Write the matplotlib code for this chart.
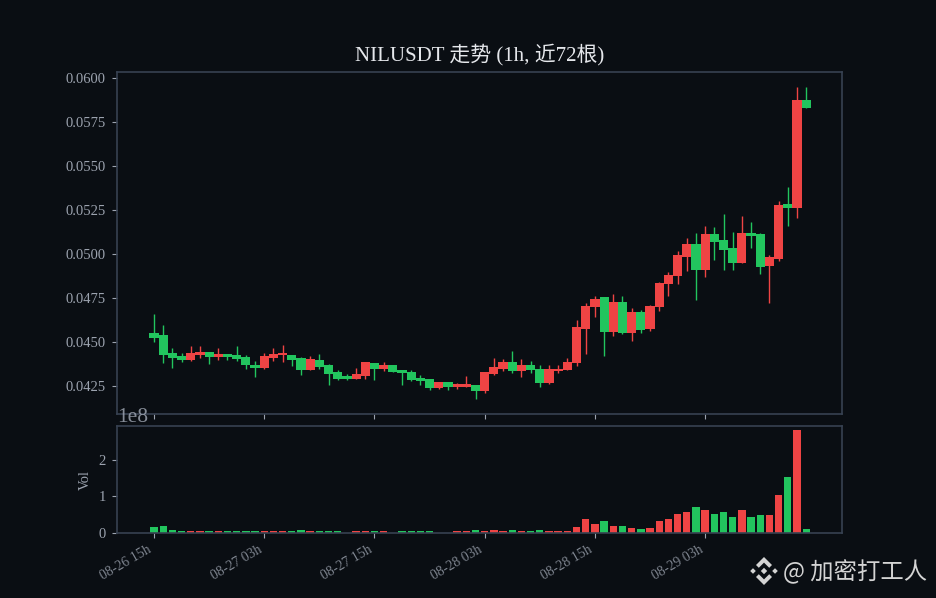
import numpy as np
import pandas as pd
import matplotlib
matplotlib.use("Agg")
import matplotlib.pyplot as plt
from matplotlib.patches import Polygon

# hourly candles
opens = [.04549, .04536, .04433, .04418, .04397, .04427, .04439, .04414, .04429, .04422, .04410, .04370,
         .04351, .04408, .04425, .04427, .04406, .04340, .04393, .04365, .04325, .04304, .04289, .04306,
         .04376, .04346, .04370, .04338, .04330, .04296, .04285, .04237, .04268, .04243, .04243, .04256,
         .04220, .04317, .04346, .04387, .04334, .04365, .04347, .04266, .04334, .04340, .04380, .04574,
         .04695, .04753, .04557, .04725, .04552, .04668, .04575, .04696, .04827, .04877, .04985, .05055,
         .04910, .05112, .05078, .05032, .04950, .05117, .05112, .04933, .04973, .05283, .05264, .05876]
closes = [.04522, .04425, .04408, .04397, .04433, .04441, .04414, .04429, .04414, .04403, .04368, .04351,
          .04418, .04429, .04435, .04397, .04340, .04401, .04357, .04317, .04289, .04289, .04315, .04382,
          .04346, .04370, .04328, .04323, .04283, .04277, .04237, .04268, .04243, .04258, .04258, .04220,
          .04325, .04353, .04387, .04334, .04365, .04340, .04266, .04342, .04347, .04387, .04581, .04701,
          .04746, .04557, .04725, .04552, .04668, .04569, .04702, .04833, .04879, .04993, .05055, .04911,
          .05112, .05070, .05024, .04950, .05117, .05104, .04927, .04981, .05277, .05264, .05876, .05830]
highs = [.04657, .04594, .04463, .04433, .04475, .04475, .04439, .04463, .04429, .04475, .04422, .04389,
         .04435, .04463, .04480, .04427, .04412, .04418, .04429, .04372, .04338, .04315, .04349, .04382,
         .04376, .04384, .04370, .04338, .04338, .04309, .04285, .04268, .04268, .04264, .04304, .04256,
         .04325, .04406, .04401, .04446, .04401, .04389, .04366, .04366, .04366, .04406, .04621, .04720,
         .04760, .04753, .04772, .04761, .04690, .04679, .04708, .04839, .04896, .05015, .05089, .05118,
         .05157, .05152, .05226, .05123, .05214, .05180, .05117, .04992, .05300, .05380, .05950, .05950]
lows = [.04499, .04380, .04351, .04384, .04389, .04408, .04374, .04397, .04397, .04391, .04346, .04300,
        .04346, .04391, .04385, .04363, .04311, .04340, .04346, .04254, .04281, .04281, .04289, .04289,
        .04281, .04332, .04328, .04254, .04275, .04254, .04226, .04230, .04226, .04230, .04243, .04175,
        .04209, .04309, .04332, .04323, .04298, .04323, .04241, .04258, .04323, .04340, .04363, .04431,
        .04640, .04421, .04535, .04546, .04506, .04552, .04563, .04677, .04763, .04831, .04905, .04740,
        .04870, .04967, .04910, .04910, .04950, .05036, .04888, .04722, .04962, .05161, .05207, .05830]
# volume in units of 1e8
vol_1e8 = [.155, .18, .07, .05, .05, .05, .05, .05, .05, .05, .05, .05,
           .05, .05, .05, .05, .08, .05, .05, .05, .05, .005, .05, .05,
           .05, .05, .005, .05, .05, .05, .05, .005, .005, .05, .05, .08,
           .055, .085, .055, .085, .055, .05, .085, .05, .05, .05, .155, .37,
           .235, .34, .18, .18, .125, .1, .125, .34, .395, .53, .585, .72,
           .615, .505, .585, .45, .615, .425, .48, .48, 1.05, 1.54, 2.8, .1]

times = pd.date_range("2025-08-26 15:00", periods=72, freq="h")
tick_pos = list(range(0, 72, 12))
tick_labels = [times[i].strftime("%m-%d %Hh") for i in tick_pos]

BG = "#0a0e13"
EDGE = "#374151"
MUTED = "#9ca3af"
RED = "#ef4444"
GREEN = "#22c55e"
W, H = 936, 598
serif = ["Liberation Serif", "Noto Sans CJK SC"]


def px_axes(fig, left, top, right, bottom, **kw):
    return fig.add_axes([left / W, 1 - bottom / H, (right - left) / W, (bottom - top) / H], **kw)


fig = plt.figure(figsize=(W / 100, H / 100), dpi=100, facecolor=BG)
ax = px_axes(fig, 117, 72, 842, 414)
ax_vol = px_axes(fig, 117, 426, 842, 533, sharex=ax)

x = np.arange(len(opens))
o, c = np.array(opens), np.array(closes)
colors = [RED if b >= a else GREEN for a, b in zip(o, c)]

ax.vlines(x, lows, highs, colors=colors, linewidth=1.0, zorder=2)
ax.bar(x, np.abs(c - o), bottom=np.minimum(o, c), width=1.0, color=colors, zorder=3)
ax_vol.bar(x, np.array(vol_1e8) * 1e8, width=0.8, color=colors)

ax.set_xlim(-4.03, 74.9)
ax.set_ylim(0.04088, 0.06037)
ax_vol.set_ylim(0, 2.92e8)
ax.set_yticks([0.0425, 0.0450, 0.0475, 0.0500, 0.0525, 0.0550, 0.0575, 0.0600])
ax.set_yticklabels(["%.4f" % v for v in ax.get_yticks()])
ax_vol.set_yticks([0, 1e8, 2e8])
ax_vol.set_xticks(tick_pos)
ax_vol.set_xticklabels(tick_labels, rotation=30, ha="right", color=MUTED, alpha=0.8)
ax.tick_params(labelbottom=False)

for a in (ax, ax_vol):
    a.set_facecolor(BG)
    a.tick_params(colors=MUTED, labelsize=10.5, pad=4.5)
    a.tick_params(axis="x", labelsize=10, pad=3.5)
    for s in a.spines.values():
        s.set_color(EDGE)
        s.set_linewidth(1.2)
    for t in a.get_xticklabels() + a.get_yticklabels():
        t.set_family(serif)

off = ax_vol.yaxis.get_offset_text()
off.set_color(MUTED)
off.set_alpha(0.85)
off.set_fontsize(15.5)
off.set_family(serif)
ax_vol.set_ylabel("Vol", color=MUTED, fontsize=10.5, family=serif, labelpad=5)
ax.set_title("NILUSDT 走势 (1h, 近72根)", color="#e5e7eb", fontsize=15, family=serif, pad=8)

# watermark logo
cx, cy = 764, 571
logo = [
    [(0, 3.2), (3.2, 0), (0, -3.2), (-3.2, 0)],
    [(-11, 2.8), (-8.2, 0), (-11, -2.8), (-13.8, 0)],
    [(11, 2.8), (13.8, 0), (11, -2.8), (8.2, 0)],
    [(0, 14), (8, 6), (5.2, 3.2), (0, 8.4), (-5.2, 3.2), (-8, 6)],
    [(0, -14), (8, -6), (5.2, -3.2), (0, -8.4), (-5.2, -3.2), (-8, -6)],
]
for shape in logo:
    pts = [((cx + px) / W, 1 - (cy - py) / H) for px, py in shape]
    fig.patches.append(Polygon(pts, closed=True, transform=fig.transFigure, facecolor="#d4d4d4", edgecolor="none"))
fig.text(783 / W, 1 - 572 / H, "@ 加密打工人", color="#d4d4d4", fontsize=16.8,
         family=["Noto Sans CJK SC", "DejaVu Sans"], ha="left", va="center")

fig.savefig("out.png", dpi=100, facecolor=BG)
